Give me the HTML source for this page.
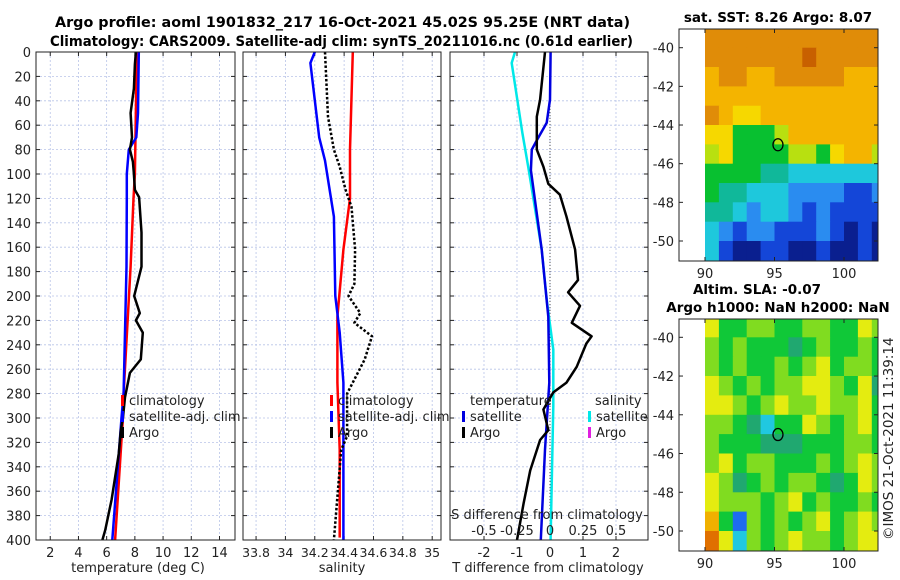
<!DOCTYPE html>
<html><head><meta charset="utf-8">
<style>
body{margin:0;background:#fff;}
svg{display:block;font-family:"DejaVu Sans","Liberation Sans",sans-serif;}
</style></head>
<body>
<svg id="fig" width="900" height="580" viewBox="0 0 900 580" xmlns="http://www.w3.org/2000/svg">
<rect width="900" height="580" fill="#fff"/>
<text x="55" y="27" font-size="14" font-weight="bold" textLength="575" lengthAdjust="spacingAndGlyphs">Argo profile: aoml 1901832_217 16-Oct-2021 45.02S 95.25E (NRT data)</text>
<text x="50" y="46" font-size="14" font-weight="bold" textLength="583" lengthAdjust="spacingAndGlyphs">Climatology: CARS2009. Satellite-adj clim: synTS_20211016.nc (0.61d earlier)</text>
<text x="778" y="22" font-size="13.5" font-weight="bold" text-anchor="middle">sat. SST: 8.26 Argo: 8.07</text>
<text x="757" y="294" font-size="13.5" font-weight="bold" text-anchor="middle">Altim. SLA: -0.07</text>
<text x="778" y="312" font-size="13.5" font-weight="bold" text-anchor="middle">Argo h1000: NaN h2000: NaN</text>
<text transform="translate(893,540) rotate(-90)" font-size="13.5" fill="#222">©IMOS 21-Oct-2021 11:39:14</text>
<g id="g"></g>
</svg>
<script>
// depth axis
const depthTicks=[0,20,40,60,80,100,120,140,160,180,200,220,240,260,280,300,320,340,360,380,400];
// temperature panel
const tempTicks=[2,4,6,8,10,12,14];
const tClimDepth=[0,100,120,176,280,300,400];
const tClimVal=[8.14,8.0,7.9,7.7,7.2,7.15,6.6];
const tSatDepth=[0,50,70,80,100,120,176,280,300,400];
const tSatVal=[8.28,8.22,8.1,7.57,7.43,7.43,7.41,7.2,7.05,6.4];
const tArgoDepth=[0,10,30,50,70,80,90,100,113,119,148,176,200,214,220,230,252,263,283,300,310,329,367,392,400];
const tArgoVal=[8.07,8.0,7.93,7.7,7.8,7.65,7.86,7.93,8.0,8.3,8.47,8.47,7.95,8.35,8.07,8.56,8.42,7.65,7.3,7.15,7.0,6.86,6.35,5.9,5.7];
// salinity panel
const salTicks=[33.8,34,34.2,34.4,34.6,34.8,35];
const sClimDepth=[0,80,120,162,217,271,326,398];
const sClimVal=[34.459,34.44,34.44,34.395,34.354,34.354,34.37,34.37];
const sSatDepth=[0,9,70,89,135,200,230,271,400];
const sSatVal=[34.2,34.17,34.23,34.27,34.33,34.34,34.37,34.395,34.395];
const sArgoDepth=[0,53,80,94,113,127,162,190,200,214,222,233,252,280,315,326,400];
const sArgoVal=[34.27,34.29,34.33,34.37,34.41,34.45,34.475,34.47,34.43,34.51,34.47,34.59,34.54,34.42,34.42,34.38,34.33];
// difference panel
const tdTicks=[-2,-1,0,1,2];
const sdTicks=[-0.5,-0.25,0,0.25,0.5];
const sdSatDepth=[0,9,66,94,162,203,244,290,400];
const sdSatVal=[-0.265,-0.29,-0.21,-0.165,-0.063,-0.025,0.025,0.025,0.005];
const tdSatDepth=[0,39,58,72,80,97,162,217,271,326,400];
const tdSatVal=[0.02,0,-0.1,-0.39,-0.55,-0.58,-0.25,-0.05,-0.02,-0.15,-0.28];
const tdArgoDepth=[0,39,53,80,94,108,117,135,162,187,197,208,222,233,239,258,271,279,293,310,318,343,370,400];
const tdArgoVal=[-0.15,-0.3,-0.4,-0.4,-0.2,-0.05,0.3,0.5,0.76,0.85,0.55,0.91,0.66,1.26,1.1,0.81,0.5,0.1,-0.2,-0.05,-0.3,-0.6,-0.8,-1.0];
// maps
const lonTicks=[90,95,100];
const latTicks=[-40,-42,-44,-46,-48,-50];
const sstGrid=[
[9,9,9,9,9,9,9,9,9,9,9,9,9],
[9,9,9,9,9,9,9,10,9,9,9,9,9],
[8,9,9,8,8,9,9,9,9,9,8,8,8],
[8,8,8,8,8,8,8,8,8,8,8,8,8],
[9,8,7,7,8,8,8,8,8,8,8,8,8],
[7,7,5,5,5,6,8,8,8,8,8,8,8],
[6,7,5,5,5,5,6,6,5,7,8,8,6],
[5,5,5,5,4,4,3,3,3,3,3,3,3],
[5,4,4,3,3,3,2,2,2,2,1,1,2],
[4,4,3,2,3,3,2,1,2,1,1,1,1],
[3,2,1,2,2,1,1,1,2,1,0,1,0],
[3,1,0,0,1,1,0,0,1,0,0,1,0]];
const slaGrid=[
[5,3,3,4,4,3,3,4,4,3,3,5,4],
[4,3,4,3,3,3,2,3,4,3,3,4,3],
[4,3,4,3,3,4,3,4,5,3,4,4,3],
[5,4,3,4,3,4,4,5,5,4,3,5,2],
[5,5,4,3,4,5,4,4,5,4,4,5,3],
[4,4,3,2,1,3,3,5,4,3,4,5,3],
[4,3,3,3,2,2,2,3,3,3,4,4,3],
[4,5,3,4,4,3,3,3,4,3,4,5,4],
[5,4,2,3,4,3,4,4,3,2,3,5,4],
[5,4,4,4,3,4,5,3,4,3,3,4,3],
[6,3,0,4,3,4,3,4,5,3,4,5,4],
[7,5,1,4,3,4,5,4,4,3,4,5,5]];
const argoLon=95.25, argoLat=-45.02;

const SSTC=['#0a1f8f','#1446d8','#2a8cf0','#1ec8dc','#10b89a','#08c030','#b8e010','#f6d800','#f4b400','#e08c08','#c86000'];
const SLAC=['#1e6cf0','#20c8e0','#20a870','#10c838','#80dc20','#e4ec10','#f0b000','#e07000'];
const NS='http://www.w3.org/2000/svg';
const G=document.getElementById('g');
function mk(tag,attrs,parent){const e=document.createElementNS(NS,tag);for(const k in attrs)e.setAttribute(k,attrs[k]);(parent||G).appendChild(e);return e;}
function txt(s,x,y,opt,parent){const e=mk('text',Object.assign({x:x,y:y,'font-size':13,fill:'#222'},opt||{}),parent);e.textContent=s;return e;}

const Y0=52,Y1=540;
const yD=d=>Y0+(d/400)*(Y1-Y0);
function panel(name,x0,x1,dmin,dmax){
  const g=mk('g',{});
  
  
  return {g,x0,x1,sx:v=>x0+(v-dmin)/(dmax-dmin)*(x1-x0)};
}
function grid(p,xticks,sx){
  depthTicks.forEach(d=>{const l=mk('line',{x1:p.x0,x2:p.x1,y1:yD(d),y2:yD(d),stroke:'#b8c4e8','stroke-width':0.8,'stroke-dasharray':'2,2'},p.g);
    
    
    mk('line',{x1:p.x0,x2:p.x0+4,y1:yD(d),y2:yD(d),stroke:'#222'},p.g);mk('line',{x1:p.x1-4,x2:p.x1,y1:yD(d),y2:yD(d),stroke:'#222'},p.g);});
  xticks.forEach(v=>{const x=sx(v);const l=mk('line',{x1:x,x2:x,y1:Y0,y2:Y1,stroke:'#b8c4e8','stroke-width':0.8,'stroke-dasharray':'2,2'},p.g);
    
    
    mk('line',{x1:x,x2:x,y1:Y1-4,y2:Y1,stroke:'#222'},p.g);mk('line',{x1:x,x2:x,y1:Y0,y2:Y0+4,stroke:'#222'},p.g);});
}
function line(p,sx,ds,vs,color,w,name,dash){
  const d=ds.map((dd,i)=>(i?'L':'M')+sx(vs[i]).toFixed(1)+','+yD(dd).toFixed(1)).join('');
  const e=mk('path',{d:d,fill:'none',stroke:color,'stroke-width':w,'stroke-linejoin':'round'},p.g);
  if(dash)e.setAttribute('stroke-dasharray',dash);
  
  
}
function frame(p){const r=mk('rect',{x:p.x0,y:Y0,width:p.x1-p.x0,height:Y1-Y0,fill:'none',stroke:'#222','stroke-width':1},p.g);
  
  }
function legend(p,x,y,color,label){mk('rect',{x:x,y:y-10,width:3,height:11,fill:color},p.g);
  const t=txt(label,x+8,y,{},p.g);
  
  }

// Panel 1 temperature
const p1=panel('temperature-panel',36,235,0.99,15.1);
grid(p1,tempTicks,p1.sx);
line(p1,p1.sx,tClimDepth,tClimVal,'#f00',2.5,'temp-climatology-line');
line(p1,p1.sx,tSatDepth,tSatVal,'#00f',2.5,'temp-satellite-line');
line(p1,p1.sx,tArgoDepth,tArgoVal,'#000',2.5,'temp-argo-line');
frame(p1);
depthTicks.forEach(d=>{const t=txt(String(d),31,yD(d)+5,{'text-anchor':'end'},p1.g);
  
  });
tempTicks.forEach(v=>{const t=txt(String(v),p1.sx(v),557,{'text-anchor':'middle'},p1.g);
  
  });
{const t=txt('temperature (deg C)',138,572,{'text-anchor':'middle'},p1.g);
 
 }
legend(p1,121,405,'#f00','climatology');
legend(p1,121,421,'#00f','satellite-adj. clim');
legend(p1,121,437,'#000','Argo');

// Panel 2 salinity
const p2=panel('salinity-panel',243,441,33.711,35.06);
grid(p2,salTicks,p2.sx);
line(p2,p2.sx,sClimDepth,sClimVal,'#f00',2.5,'sal-climatology-line');
line(p2,p2.sx,sSatDepth,sSatVal,'#00f',2.5,'sal-satellite-line');
line(p2,p2.sx,sArgoDepth,sArgoVal,'#000',2.5,'sal-argo-line','2.5,2');
frame(p2);
salTicks.forEach(v=>{const t=txt(String(v),p2.sx(v),557,{'text-anchor':'middle','font-size':12.5},p2.g);
  
  });
{const t=txt('salinity',342,572,{'text-anchor':'middle'},p2.g);
 
 }
legend(p2,330,405,'#f00','climatology');
legend(p2,330,421,'#00f','satellite-adj. clim');
legend(p2,330,437,'#000','Argo');

// Panel 3 differences
const p3=panel('difference-panel',450,648,-3.03,2.97);
const sxS=v=>p3.sx(v*4);
grid(p3,tdTicks,p3.sx);
{const l=mk('line',{x1:p3.sx(0),x2:p3.sx(0),y1:Y0,y2:Y1,stroke:'#555','stroke-width':1,'stroke-dasharray':'1,2'},p3.g);
 
 }
line(p3,sxS,sdSatDepth,sdSatVal,'#00e8e8',2.5,'sal-diff-satellite-line');
line(p3,p3.sx,tdSatDepth,tdSatVal,'#0000e0',2.5,'temp-diff-satellite-line');
line(p3,p3.sx,tdArgoDepth,tdArgoVal,'#000',2.5,'temp-diff-argo-line');
frame(p3);
tdTicks.forEach(v=>{const t=txt(String(v),p3.sx(v),557,{'text-anchor':'middle'},p3.g);
  
  });
sdTicks.forEach(v=>{const t=txt(String(v),sxS(v),535,{'text-anchor':'middle'},p3.g);
  
  });
{const t=txt('T difference from climatology',548,572,{'text-anchor':'middle'},p3.g);
 
 
 const t2=txt('S difference from climatology',547,519,{'text-anchor':'middle'},p3.g);
 
 
 const t3=txt('temperature',470,405,{},p3.g);
 
 
 const t4=txt('salinity',595,405,{},p3.g);
 
 }
legend(p3,462,421,'#0000e0','satellite');
legend(p3,462,437,'#000','Argo');
legend(p3,588,421,'#00e8e8','satellite');
legend(p3,588,437,'#e020e0','Argo');

// Maps
function map(name,grid,colors,bx0,by0,bx1,by1,lat40y,lat50y){
  const g=mk('g',{});
  
  
  const lonX=l=>705+(l-90)*13.9;
  const latY=l=>lat40y+(-40-l)/10*(lat50y-lat40y);
  grid.forEach((row,r)=>row.forEach((c,ci)=>{
    const x=lonX(90+ci), y=latY(-39-r);
    const w=Math.min(lonX(91+ci),bx1)-x;
    const yy=Math.max(y,by0), h=Math.min(latY(-40-r),by1)-yy;
    const cell=mk('rect',{x:x.toFixed(1),y:yy.toFixed(1),width:(w+0.5).toFixed(1),height:(h+0.5).toFixed(1),fill:colors[c]},g);
    
    
  }));
  if(by0<latY(-39)){const cells=grid[0];cells.forEach((c,ci)=>{const x=lonX(90+ci);const w=Math.min(lonX(91+ci),bx1)-x;
    const cell=mk('rect',{x:x.toFixed(1),y:by0,width:(w+0.5).toFixed(1),height:(latY(-39)-by0+0.5).toFixed(1),fill:colors[c]},g);
    
    });}
  const r=mk('rect',{x:bx0,y:by0,width:bx1-bx0,height:by1-by0,fill:'none',stroke:'#222'},g);
  
  
  lonTicks.forEach(l=>{const x=lonX(l);mk('line',{x1:x,x2:x,y1:by1,y2:by1-4,stroke:'#222'},g);mk('line',{x1:x,x2:x,y1:by0,y2:by0+4,stroke:'#222'},g);
    const t=txt(String(l),x,by1+17,{'text-anchor':'middle'},g);
    
    });
  latTicks.forEach(l=>{const y=latY(l);mk('line',{x1:bx0,x2:bx0+4,y1:y,y2:y,stroke:'#222'},g);mk('line',{x1:bx1-4,x2:bx1,y1:y,y2:y,stroke:'#222'},g);
    const t=txt(String(l),674,y+5,{'text-anchor':'end'},g);
    
    });
  const c=mk('ellipse',{cx:lonX(argoLon),cy:latY(argoLat),rx:5,ry:6,fill:'none',stroke:'#000','stroke-width':1.3},g);
  
  
}
map('sst-map',sstGrid,SSTC,679,29,878,261,47.7,241);
map('sla-map',slaGrid,SLAC,679,319,878,551,337.3,531);
</script>
</body></html>
